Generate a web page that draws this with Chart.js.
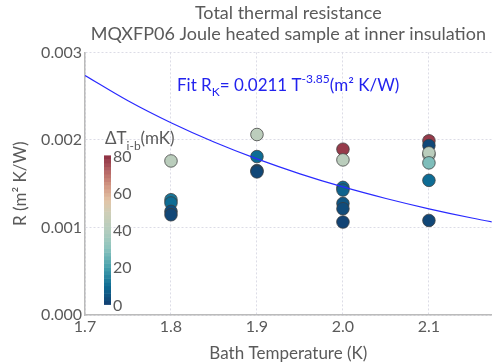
<!DOCTYPE html>
<html>
<head>
<meta charset="utf-8">
<script src="https://cdn.jsdelivr.net/npm/chart.js@4"></script>
<style>
  html, body { margin: 0; padding: 0; background: #fff; }
  #wrap { width: 499px; height: 364px; }
</style>
</head>
<body>
<div id="wrap"><canvas id="c" width="499" height="364"></canvas></div>
<script>
// measured points (bath temperature K, resistance m2K/W, deltaT mK)
const bathT = [1.8, 1.8, 1.8, 1.8, 1.8,
               1.9, 1.9, 1.9, 1.9,
               2.0, 2.0, 2.0, 2.0, 2.0, 2.0, 2.0,
               2.1, 2.1, 2.1, 2.1, 2.1, 2.1, 2.1];
const resist = [0.00176, 0.001317, 0.00128, 0.001184, 0.001145,
                0.002062, 0.00181, 0.00165, 0.001635,
                0.001894, 0.001772, 0.001458, 0.001428, 0.001275, 0.001214, 0.001062,
                0.00199, 0.001936, 0.00183, 0.001852, 0.001738, 0.001538, 0.00108];
const deltaT = [42, 12, 10, 3, 2,
                43, 10, 3, 2,
                78, 42, 10, 8, 5, 3, 1,
                78, 2, 40, 42, 28, 10, 2];

// fit curve
const fitT = [1.70, 1.75, 1.80, 1.85, 1.90, 1.95, 2.00, 2.05, 2.10, 2.15, 2.20];
const fitR = [0.002736, 0.002447, 0.002196, 0.001976, 0.001783, 0.001613, 0.001463, 0.001331, 0.001213, 0.001108, 0.001014];

const xTicks = [1.7, 1.8, 1.9, 2.0, 2.1];
const yTicks = [0, 0.001, 0.002, 0.003];
const cbTicks = [0, 20, 40, 60, 80];

// colour scale, 0..80 mK
const cmap = [
  [0.000, [18, 62, 112]],
  [0.125, [14, 108, 148]],
  [0.250, [70, 160, 172]],
  [0.375, [140, 196, 190]],
  [0.500, [180, 205, 190]],
  [0.625, [208, 206, 182]],
  [0.700, [226, 196, 166]],
  [0.800, [210, 150, 130]],
  [0.900, [180, 100, 100]],
  [1.000, [140, 45, 65]]
];
function colorAt(v) {
  const t = Math.max(0, Math.min(1, v / 80));
  for (let i = 1; i < cmap.length; i++) {
    if (t <= cmap[i][0]) {
      const a = cmap[i - 1], b = cmap[i];
      const f = (t - a[0]) / (b[0] - a[0]);
      const c = a[1].map((x, k) => Math.round(x + (b[1][k] - x) * f));
      return `rgb(${c[0]},${c[1]},${c[2]})`;
    }
  }
  return 'rgb(140,45,65)';
}

const FONT = 'Lato, "DejaVu Sans", sans-serif';
const GREY = '#5a5a5a';

const extras = {
  id: 'extras',
  afterDatasetsDraw(chart) {
    const ctx = chart.ctx;
    const a = chart.chartArea;
    ctx.save();
    // fit label
    let x = a.left + 92, y = a.top + 39;
    ctx.fillStyle = '#2222ee';
    ctx.textBaseline = 'alphabetic';
    ctx.textAlign = 'left';
    const big = '17px ' + FONT, small = '12px ' + FONT;
    const parts = [['Fit R', big, 0], ['K', small, 5], ['= 0.0211 T', big, 0], ['-3.85', small, -8], ['(m² K/W)', big, 0]];
    parts.forEach(p => {
      ctx.font = p[1];
      ctx.fillText(p[0], x, y + p[2]);
      x += ctx.measureText(p[0]).width;
    });

    // colour bar
    const bx = a.left + 19, bw = 7, btop = a.top + 103, bbot = a.top + 252;
    const steps = 40;
    for (let i = 0; i < steps; i++) {
      const v = (i + 0.5) / steps * 80;
      const y0 = bbot - (i + 1) * (bbot - btop) / steps;
      ctx.fillStyle = colorAt(v);
      ctx.fillRect(bx, y0, bw, (bbot - btop) / steps + 0.5);
    }
    ctx.fillStyle = GREY;
    ctx.font = '16px ' + FONT;
    ctx.textBaseline = 'middle';
    cbTicks.forEach(v => {
      const ty = bbot - v / 80 * (bbot - btop);
      ctx.fillText(String(v), bx + bw + 2, ty + 1);
    });
    // colour bar title
    ctx.textBaseline = 'alphabetic';
    let tx = bx + 1, ty = btop - 11;
    const tparts = [['ΔT', big, 0], ['i-b', small, 6], ['(mK)', big, 0]];
    tparts.forEach(p => {
      ctx.font = p[1];
      ctx.fillText(p[0], tx, ty + p[2]);
      tx += ctx.measureText(p[0]).width;
    });
    ctx.restore();
  }
};

new Chart(document.getElementById('c'), {
  type: 'scatter',
  data: {
    datasets: [
      {
        type: 'line',
        data: fitT.map((t, i) => ({ x: t, y: fitR[i] })),
        borderColor: '#2a2aff',
        borderWidth: 1.2,
        pointRadius: 0,
        cubicInterpolationMode: 'monotone',
        fill: false,
        clip: true
      },
      {
        data: bathT.map((t, i) => ({ x: t, y: resist[i] })),
        pointRadius: 6.3,
        pointBackgroundColor: deltaT.map(colorAt),
        pointBorderColor: 'rgba(60,60,60,0.75)',
        pointBorderWidth: 1
      }
    ]
  },
  options: {
    responsive: false,
    animation: false,
    layout: { padding: { left: 0, right: 2, top: 0, bottom: 0 } },
    plugins: {
      legend: { display: false },
      tooltip: { enabled: false },
      title: {
        display: true,
        fullSize: false,
        text: ['Total thermal resistance', 'MQXFP06 Joule heated sample at inner insulation'],
        color: GREY,
        font: { family: FONT, size: 18, weight: 'normal', lineHeight: 1.15 },
        padding: { top: 3, bottom: 8 }
      }
    },
    scales: {
      x: {
        type: 'linear',
        min: 1.7,
        max: 2.173,
        afterBuildTicks: s => { s.ticks = xTicks.map(v => ({ value: v })); },
        afterFit: s => { s.height = 49; },
        ticks: {
          color: GREY,
          font: { family: FONT, size: 16 },
          padding: 2,
          maxRotation: 0,
          callback: v => v.toFixed(1)
        },
        grid: { color: '#dcdce6', drawTicks: false },
        border: { display: true, color: '#bbbbbb', width: 1.5, dash: [2, 2] },
        title: {
          display: true,
          text: 'Bath Temperature (K)',
          color: GREY,
          font: { family: FONT, size: 17 },
          padding: { top: 6, bottom: 0 }
        }
      },
      y: {
        min: 0,
        max: 0.003,
        afterBuildTicks: s => { s.ticks = yTicks.map(v => ({ value: v })); },
        afterFit: s => { s.width = 85; },
        ticks: {
          color: GREY,
          font: { family: FONT, size: 16 },
          padding: 3,
          callback: v => v.toFixed(3)
        },
        grid: { color: '#dcdce6', drawTicks: false },
        border: { display: true, color: '#bbbbbb', width: 1.5, dash: [2, 2] },
        title: {
          display: true,
          text: 'R (m² K/W)',
          color: GREY,
          font: { family: FONT, size: 17 },
          padding: { top: 10, bottom: 0 }
        }
      }
    }
  },
  plugins: [extras]
});
</script>
</body>
</html>
